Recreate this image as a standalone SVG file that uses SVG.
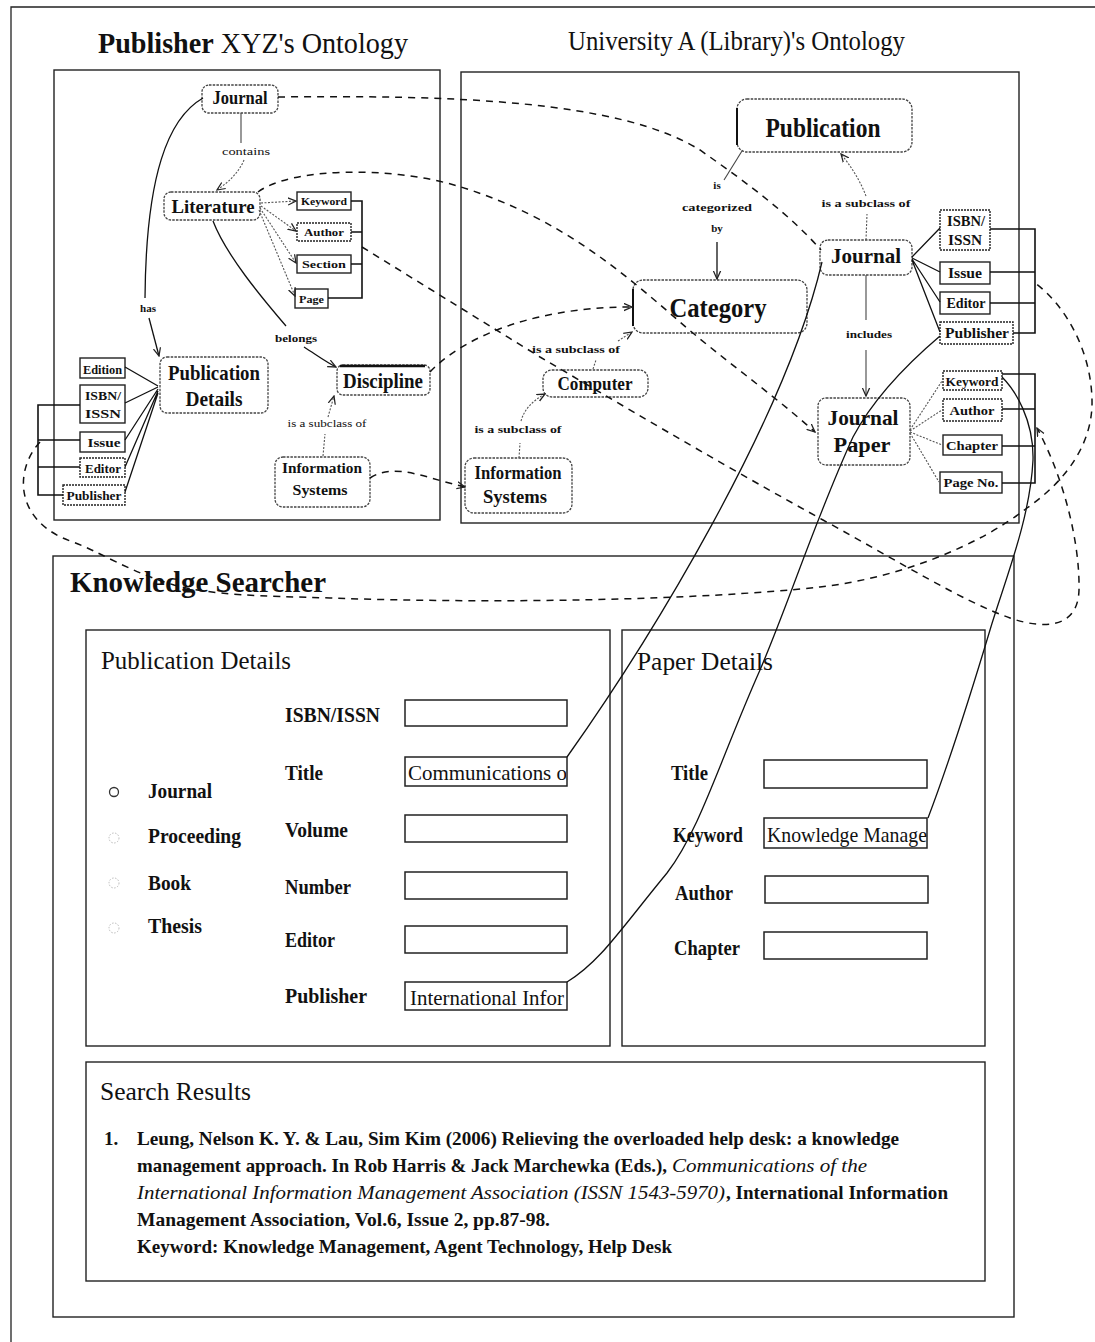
<svg xmlns="http://www.w3.org/2000/svg" width="1095" height="1342" viewBox="0 0 1095 1342">
<style>
text{font-family:"Liberation Serif","Times New Roman",serif;fill:#111}
.b{font-weight:bold}
.m{text-anchor:middle}
.frame{fill:none;stroke:#222;stroke-width:1.3}
.panel{fill:none;stroke:#222;stroke-width:1.4}
.onode{fill:#fff;stroke:#444;stroke-width:1.3;stroke-dasharray:2.5 1.2}
.sbox{fill:#fff;stroke:#222;stroke-width:1.4}
.field{fill:#fff;stroke:#222;stroke-width:1.5}
.rel{fill:none;stroke:#444;stroke-width:1.1}
.dot{fill:none;stroke:#555;stroke-width:1.1;stroke-dasharray:2 1.5}
.br{fill:none;stroke:#111;stroke-width:1.6}
.map{fill:none;stroke:#111;stroke-width:1.5;stroke-dasharray:7 6}
.sol{fill:none;stroke:#111;stroke-width:1.3}
</style>
<defs>
<marker id="arr" viewBox="0 0 10 10" refX="9" refY="5" markerWidth="9" markerHeight="9" orient="auto" markerUnits="userSpaceOnUse"><path d="M0,1 L9,5 L0,9" fill="none" stroke="#222" stroke-width="1.4"/></marker>
<clipPath id="c1"><rect x="405" y="757" width="161" height="30"/></clipPath>
<clipPath id="c2"><rect x="405" y="982" width="161" height="30"/></clipPath>
<clipPath id="c3"><rect x="764" y="818" width="163" height="30"/></clipPath>
</defs>

<g id="frame">
<path class="frame" d="M11,1342 V7 H1095"/>
<text x="98" y="53" font-size="30" textLength="310" lengthAdjust="spacingAndGlyphs"><tspan class="b">Publisher</tspan> XYZ's Ontology</text>
<text x="568" y="50" font-size="28" textLength="337" lengthAdjust="spacingAndGlyphs">University A (Library)'s Ontology</text>
<rect class="panel" x="54" y="70" width="386" height="450"/>
<rect class="panel" x="461" y="72" width="558" height="451"/>
</g>

<g id="knowledge-searcher">
<rect class="panel" x="53" y="556" width="961" height="761"/>
<text class="b" x="70" y="592" font-size="30" textLength="256" lengthAdjust="spacingAndGlyphs">Knowledge Searcher</text>
</g>

<g id="publication-details-panel">
<rect class="panel" x="86" y="630" width="524" height="416"/>
<text x="101" y="669" font-size="26" textLength="190" lengthAdjust="spacingAndGlyphs">Publication Details</text>
<circle cx="114" cy="792" r="4.5" fill="none" stroke="#333" stroke-width="1.3"/>
<circle cx="114" cy="838" r="5" fill="none" stroke="#bbb" stroke-width="1" stroke-dasharray="1.5 1.5"/>
<circle cx="114" cy="883" r="5" fill="none" stroke="#bbb" stroke-width="1" stroke-dasharray="1.5 1.5"/>
<circle cx="114" cy="928" r="5" fill="none" stroke="#bbb" stroke-width="1" stroke-dasharray="1.5 1.5"/>
<text class="b" x="148" y="798" font-size="21" textLength="64" lengthAdjust="spacingAndGlyphs">Journal</text>
<text class="b" x="148" y="843" font-size="21" textLength="93" lengthAdjust="spacingAndGlyphs">Proceeding</text>
<text class="b" x="148" y="890" font-size="21" textLength="43" lengthAdjust="spacingAndGlyphs">Book</text>
<text class="b" x="148" y="933" font-size="21" textLength="54" lengthAdjust="spacingAndGlyphs">Thesis</text>
<text class="b" x="285" y="722" font-size="21" textLength="95" lengthAdjust="spacingAndGlyphs">ISBN/ISSN</text>
<text class="b" x="285" y="780" font-size="21" textLength="38" lengthAdjust="spacingAndGlyphs">Title</text>
<text class="b" x="285" y="837" font-size="21" textLength="63" lengthAdjust="spacingAndGlyphs">Volume</text>
<text class="b" x="285" y="894" font-size="21" textLength="66" lengthAdjust="spacingAndGlyphs">Number</text>
<text class="b" x="285" y="947" font-size="21" textLength="50" lengthAdjust="spacingAndGlyphs">Editor</text>
<text class="b" x="285" y="1003" font-size="21" textLength="82" lengthAdjust="spacingAndGlyphs">Publisher</text>
<rect class="field" x="405" y="700" width="162" height="26"/>
<rect class="field" x="405" y="757" width="162" height="29" stroke-width="2"/>
<text x="408" y="780" font-size="21" textLength="166" lengthAdjust="spacingAndGlyphs" clip-path="url(#c1)">Communications of</text>
<rect class="field" x="405" y="815" width="162" height="27"/>
<rect class="field" x="405" y="872" width="162" height="27"/>
<rect class="field" x="405" y="926" width="162" height="27"/>
<rect class="field" x="405" y="982" width="162" height="28" stroke-width="2"/>
<text x="410" y="1005" font-size="21" textLength="154" lengthAdjust="spacingAndGlyphs" clip-path="url(#c2)">International Infor</text>
</g>

<g id="paper-details-panel">
<rect class="panel" x="622" y="630" width="363" height="416"/>
<text x="637" y="670" font-size="26" textLength="136" lengthAdjust="spacingAndGlyphs">Paper Details</text>
<text class="b" x="671" y="780" font-size="21" textLength="37" lengthAdjust="spacingAndGlyphs">Title</text>
<text class="b" x="673" y="842" font-size="21" textLength="70" lengthAdjust="spacingAndGlyphs">Keyword</text>
<text class="b" x="675" y="900" font-size="21" textLength="58" lengthAdjust="spacingAndGlyphs">Author</text>
<text class="b" x="674" y="955" font-size="21" textLength="66" lengthAdjust="spacingAndGlyphs">Chapter</text>
<rect class="field" x="764" y="760" width="163" height="28"/>
<rect class="field" x="764" y="818" width="163" height="30" stroke-width="2"/>
<text x="767" y="842" font-size="21" textLength="160" lengthAdjust="spacingAndGlyphs" clip-path="url(#c3)">Knowledge Manage</text>
<rect class="field" x="765" y="876" width="163" height="27"/>
<rect class="field" x="764" y="932" width="163" height="27"/>
</g>

<g id="search-results">
<rect class="panel" x="86" y="1062" width="899" height="219"/>
<text x="100" y="1100" font-size="25" textLength="151" lengthAdjust="spacingAndGlyphs">Search Results</text>
<text class="b" x="104" y="1145" font-size="19">1.</text>
<text class="b" x="137" y="1145" font-size="19" textLength="762" lengthAdjust="spacingAndGlyphs">Leung, Nelson K. Y. &amp; Lau, Sim Kim (2006) Relieving the overloaded help desk: a knowledge</text>
<text class="b" x="137" y="1172" font-size="19" textLength="530" lengthAdjust="spacingAndGlyphs">management approach. In Rob Harris &amp; Jack Marchewka (Eds.),</text>
<text x="672" y="1172" font-size="19" font-style="italic" textLength="195" lengthAdjust="spacingAndGlyphs">Communications of the</text>
<text x="137" y="1199" font-size="19" font-style="italic" textLength="588" lengthAdjust="spacingAndGlyphs">International Information Management Association (ISSN 1543-5970)</text>
<text class="b" x="726" y="1199" font-size="19" textLength="222" lengthAdjust="spacingAndGlyphs">, International Information</text>
<text class="b" x="137" y="1226" font-size="19" textLength="413" lengthAdjust="spacingAndGlyphs">Management Association, Vol.6, Issue 2, pp.87-98.</text>
<text class="b" x="137" y="1253" font-size="19" textLength="535" lengthAdjust="spacingAndGlyphs">Keyword: Knowledge Management, Agent Technology, Help Desk</text>
</g>

<!-- Left ontology nodes -->
<g id="L-journal"><rect class="onode" x="202" y="85" width="76" height="28" rx="7"/><text class="b m" x="240" y="104" font-size="19" textLength="55" lengthAdjust="spacingAndGlyphs">Journal</text></g>
<g id="L-literature"><rect class="onode" x="164" y="192" width="96" height="28" rx="7"/><text class="b m" x="213" y="213" font-size="19" textLength="83" lengthAdjust="spacingAndGlyphs">Literature</text></g>
<g id="L-keyword"><rect class="sbox" x="297" y="192" width="54" height="18"/><text class="b m" x="324" y="205" font-size="11" textLength="46" lengthAdjust="spacingAndGlyphs">Keyword</text></g>
<g id="L-author"><rect class="sbox" x="297" y="223" width="54" height="18" stroke-dasharray="2 1"/><text class="b m" x="324" y="236" font-size="11" textLength="40" lengthAdjust="spacingAndGlyphs">Author</text></g>
<g id="L-section"><rect class="sbox" x="297" y="255" width="54" height="18"/><text class="b m" x="324" y="268" font-size="11" textLength="44" lengthAdjust="spacingAndGlyphs">Section</text></g>
<g id="L-page"><rect class="sbox" x="295" y="289" width="33" height="19"/><text class="b m" x="311.5" y="303" font-size="11" textLength="25" lengthAdjust="spacingAndGlyphs">Page</text></g>
<g id="L-pubdetails"><rect class="onode" x="160" y="357" width="108" height="56" rx="7"/><text class="b m" x="214" y="380" font-size="21" textLength="92" lengthAdjust="spacingAndGlyphs">Publication</text><text class="b m" x="214" y="406" font-size="21" textLength="57" lengthAdjust="spacingAndGlyphs">Details</text></g>
<g id="L-edition"><rect class="sbox" x="80" y="358" width="45" height="20"/><text class="b m" x="102.5" y="374" font-size="12" textLength="39" lengthAdjust="spacingAndGlyphs">Edition</text></g>
<g id="L-isbn"><rect class="sbox" x="80" y="385" width="45" height="38"/><text class="b m" x="103" y="400" font-size="12" textLength="36" lengthAdjust="spacingAndGlyphs">ISBN/</text><text class="b m" x="103" y="418" font-size="12" textLength="36" lengthAdjust="spacingAndGlyphs">ISSN</text></g>
<g id="L-issue"><rect class="sbox" x="80" y="432" width="45" height="20"/><text class="b m" x="104" y="447" font-size="12" textLength="33" lengthAdjust="spacingAndGlyphs">Issue</text></g>
<g id="L-editor"><rect class="sbox" x="80" y="458" width="45" height="19" stroke-dasharray="2 1"/><text class="b m" x="103" y="473" font-size="12" textLength="36" lengthAdjust="spacingAndGlyphs">Editor</text></g>
<g id="L-publisher"><rect class="sbox" x="63" y="485" width="62" height="20" stroke-dasharray="2 1"/><text class="b m" x="94" y="500" font-size="12" textLength="55" lengthAdjust="spacingAndGlyphs">Publisher</text></g>
<g id="L-discipline"><rect class="onode" x="337" y="365" width="93" height="30" rx="6"/><path d="M340,366 H425" stroke="#111" stroke-width="2.5"/><text class="b m" x="383" y="388" font-size="20" textLength="80" lengthAdjust="spacingAndGlyphs">Discipline</text></g>
<g id="L-infosys"><rect class="onode" x="275" y="457" width="95" height="50" rx="8"/><text class="b m" x="322" y="473" font-size="15" textLength="80" lengthAdjust="spacingAndGlyphs">Information</text><text class="b m" x="320" y="495" font-size="15" textLength="55" lengthAdjust="spacingAndGlyphs">Systems</text></g>

<!-- Right ontology nodes -->
<g id="R-publication"><rect class="onode" x="737" y="99" width="175" height="53" rx="10"/><path d="M737,108 V145" stroke="#111" stroke-width="2"/><text class="b m" x="823" y="137" font-size="28" textLength="115" lengthAdjust="spacingAndGlyphs">Publication</text></g>
<g id="R-category"><rect class="onode" x="633" y="280" width="174" height="53" rx="10"/><path d="M633,289 V326" stroke="#111" stroke-width="2"/><text class="b m" x="718" y="317" font-size="28" textLength="97" lengthAdjust="spacingAndGlyphs">Category</text></g>
<g id="R-journal"><rect class="onode" x="820" y="240" width="92" height="35" rx="8"/><text class="b m" x="866" y="263" font-size="22" textLength="70" lengthAdjust="spacingAndGlyphs">Journal</text></g>
<g id="R-journalpaper"><rect class="onode" x="818" y="398" width="92" height="67" rx="8"/><text class="b m" x="863" y="425" font-size="22" textLength="71" lengthAdjust="spacingAndGlyphs">Journal</text><text class="b m" x="862" y="452" font-size="22" textLength="57" lengthAdjust="spacingAndGlyphs">Paper</text></g>
<g id="R-computer"><rect class="onode" x="543" y="370" width="105" height="27" rx="9"/><text class="b m" x="595" y="390" font-size="19" textLength="75" lengthAdjust="spacingAndGlyphs">Computer</text></g>
<g id="R-infosys"><rect class="onode" x="465" y="458" width="107" height="55" rx="9"/><text class="b m" x="518" y="479" font-size="18" textLength="87" lengthAdjust="spacingAndGlyphs">Information</text><text class="b m" x="515" y="503" font-size="18" textLength="64" lengthAdjust="spacingAndGlyphs">Systems</text></g>
<g id="R-isbn"><rect class="sbox" x="940" y="210" width="50" height="40" stroke-dasharray="2 1"/><text class="b m" x="966" y="226" font-size="14" textLength="38" lengthAdjust="spacingAndGlyphs">ISBN/</text><text class="b m" x="965" y="245" font-size="14" textLength="34" lengthAdjust="spacingAndGlyphs">ISSN</text></g>
<g id="R-issue"><rect class="sbox" x="940" y="262" width="50" height="22"/><text class="b m" x="965" y="278" font-size="14" textLength="34" lengthAdjust="spacingAndGlyphs">Issue</text></g>
<g id="R-editor"><rect class="sbox" x="940" y="292" width="50" height="22"/><text class="b m" x="966" y="308" font-size="14" textLength="39" lengthAdjust="spacingAndGlyphs">Editor</text></g>
<g id="R-publisher"><rect class="sbox" x="940" y="322" width="73" height="22" stroke-dasharray="2 1"/><text class="b m" x="977" y="338" font-size="14" textLength="64" lengthAdjust="spacingAndGlyphs">Publisher</text></g>
<g id="R-keyword"><rect class="sbox" x="943" y="371" width="59" height="19" stroke-dasharray="2 1"/><text class="b m" x="972" y="386" font-size="13" textLength="53" lengthAdjust="spacingAndGlyphs">Keyword</text></g>
<g id="R-author"><rect class="sbox" x="943" y="399" width="59" height="22" stroke-dasharray="2 1"/><text class="b m" x="972" y="415" font-size="13" textLength="45" lengthAdjust="spacingAndGlyphs">Author</text></g>
<g id="R-chapter"><rect class="sbox" x="943" y="435" width="59" height="20"/><text class="b m" x="972" y="450" font-size="13" textLength="52" lengthAdjust="spacingAndGlyphs">Chapter</text></g>
<g id="R-pageno"><rect class="sbox" x="940" y="472" width="62" height="21"/><text class="b m" x="971" y="487" font-size="13" textLength="55" lengthAdjust="spacingAndGlyphs">Page No.</text></g>

<!-- Relationship connectors and labels -->
<g id="relations">
<path class="br" d="M351,201 H362 V298 H328 M351,232 H362 M351,264 H362"/>
<path class="br" d="M80,405 H38 V495 H63 M38,440 H80 M38,467 H80"/>
<path class="br" d="M990,229 H1035 V333 H1013 M990,272 H1035 M990,303 H1035"/>
<path class="br" d="M1002,374 H1035 V483 H1002 M1002,409 H1035 M1002,446 H1035"/>
<path class="rel" d="M241,113 V143"/>
<text class="m" x="246" y="155" font-size="10" textLength="48" lengthAdjust="spacingAndGlyphs">contains</text>
<path class="dot" d="M244,160 C239,172 229,182 217,190" marker-end="url(#arr)"/>
<path class="sol" d="M203,98 C168,118 146,175 145,298"/>
<text class="b m" x="148" y="312" font-size="11">has</text>
<path class="sol" d="M149,318 L159,356" marker-end="url(#arr)"/>
<path class="sol" d="M213,221 C226,255 262,298 286,326"/>
<text class="b m" x="296" y="342" font-size="11" textLength="42" lengthAdjust="spacingAndGlyphs">belongs</text>
<path class="sol" d="M304,347 C318,356 326,362 336,367" marker-end="url(#arr)"/>
<path class="dot" d="M261,203 L296,201" marker-end="url(#arr)"/>
<path class="dot" d="M261,206 L296,231" marker-end="url(#arr)"/>
<path class="dot" d="M260,208 L296,263" marker-end="url(#arr)"/>
<path class="dot" d="M259,210 L295,296" marker-end="url(#arr)"/>
<path class="sol" d="M125,367 L158,386 M125,403 L158,387 M125,440 L158,389 M125,467 L158,391 M125,492 L158,393"/>
<path class="dot" d="M323,456 L325,434"/>
<text class="m" x="327" y="427" font-size="10" textLength="79" lengthAdjust="spacingAndGlyphs">is a subclass of</text>
<path class="dot" d="M328,417 C330,410 332,403 334,396" marker-end="url(#arr)"/>
<path class="dot" d="M866,240 L867,214"/>
<text class="b m" x="866" y="207" font-size="11" textLength="89" lengthAdjust="spacingAndGlyphs">is a subclass of</text>
<path class="dot" d="M866,196 C860,180 850,165 841,154" marker-end="url(#arr)"/>
<path class="rel" d="M742,151 L724,180"/>
<text class="b m" x="717" y="189" font-size="11">is</text>
<text class="b m" x="717" y="211" font-size="11" textLength="70" lengthAdjust="spacingAndGlyphs">categorized</text>
<text class="b m" x="717" y="232" font-size="11">by</text>
<path class="sol" d="M717,242 L717,279" marker-end="url(#arr)"/>
<path class="rel" d="M866,275 V320"/>
<text class="b m" x="869" y="338" font-size="11" textLength="46" lengthAdjust="spacingAndGlyphs">includes</text>
<path class="rel" d="M866,350 V396" marker-end="url(#arr)"/>
<path class="sol" d="M912,257 L940,228 M912,258 L940,272 M912,259 L940,302 M912,260 L940,332"/>
<path class="dot" d="M910,430 L942,381 M910,431 L942,410 M910,432 L942,445 M910,433 L939,482"/>
<path class="dot" d="M593,369 L596,360"/>
<text class="b m" x="576" y="353" font-size="11" textLength="88" lengthAdjust="spacingAndGlyphs">is a subclass of</text>
<path class="dot" d="M618,341 L632,332" marker-end="url(#arr)"/>
<path class="dot" d="M519,458 L520,443"/>
<text class="b m" x="518" y="433" font-size="11" textLength="87" lengthAdjust="spacingAndGlyphs">is a subclass of</text>
<path class="dot" d="M521,421 C524,410 532,401 545,394" marker-end="url(#arr)"/>
</g>

<!-- Ontology mappings and form links -->
<g id="connectors">
<path class="map" d="M278,97 C450,95 620,100 700,150 C750,185 790,215 821,250"/>
<path class="map" d="M258,192 C290,168 390,165 461,187 C560,218 620,270 680,322 C720,357 770,392 815,432" marker-end="url(#arr)"/>
<path class="map" d="M430,372 C455,345 520,307 632,307" marker-end="url(#arr)"/>
<path class="map" d="M370,478 C395,462 425,478 465,487" marker-end="url(#arr)"/>
<path class="map" d="M362,247 L540,357 C620,404 700,452 823,520 C900,562 960,600 1010,618 C1045,630 1078,628 1079,590 C1080,545 1065,480 1037,428" marker-end="url(#arr)"/>
<path class="map" d="M40,442 C14,470 14,522 73,542 C100,552 130,572 174,585 C210,595 260,596 330,598 C500,604 700,600 820,587 C900,578 980,545 1027,508 C1070,478 1093,440 1092,400 C1091,350 1065,305 1035,283"/>
<path class="sol" d="M567,757 C650,640 785,420 822,262"/>
<path class="sol" d="M567,982 C600,962 620,930 667,873 C700,830 720,760 760,670 C790,600 815,520 853,437 C870,405 900,370 940,336"/>
<path class="sol" d="M928,818 C950,760 975,680 990,630 C1005,580 1030,520 1033,460 C1034,420 1015,390 1002,377"/>
</g>
</svg>
